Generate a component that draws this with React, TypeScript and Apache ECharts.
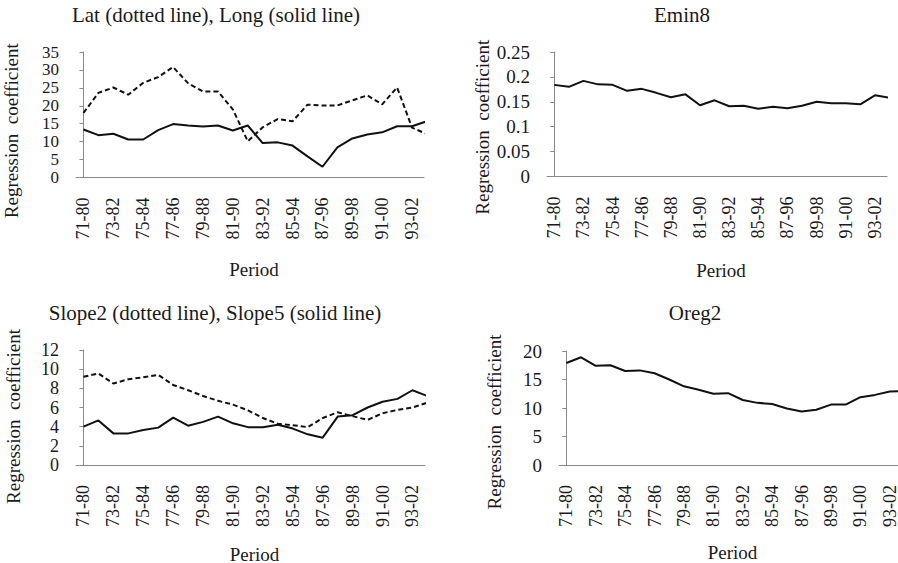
import React, { useEffect, useRef } from 'react';
import * as echarts from 'echarts';

const periods = [
  '71-80', '72-81', '73-82', '74-83', '75-84', '76-85', '77-86', '78-87',
  '79-88', '80-89', '81-90', '82-91', '83-92', '84-93', '85-94', '86-95',
  '87-96', '88-97', '89-98', '90-99', '91-00', '92-01', '93-02', '94-03',
];
const shownLabels = [0, 2, 4, 6, 8, 10, 12, 14, 16, 18, 20, 22];

const lat = [18.0, 23.6, 25.1, 23.1, 26.4, 28.0, 30.8, 26.3, 24.0, 24.0, 19.0, 10.1, 14.0, 16.3, 15.7, 20.3, 20.1, 20.1, 21.5, 22.9, 20.4, 25.1, 13.9, 12.1];
const long = [13.4, 11.8, 12.2, 10.6, 10.6, 13.2, 14.9, 14.5, 14.2, 14.5, 13.1, 14.5, 9.6, 9.8, 8.9, 5.9, 3.0, 8.4, 10.9, 12.0, 12.6, 14.3, 14.3, 15.7];
const emin8 = [0.184, 0.180, 0.192, 0.185, 0.184, 0.172, 0.176, 0.168, 0.159, 0.165, 0.143, 0.153, 0.141, 0.142, 0.136, 0.140, 0.137, 0.142, 0.150, 0.147, 0.147, 0.145, 0.163, 0.158];
const slope2 = [9.2, 9.55, 8.5, 8.95, 9.15, 9.4, 8.35, 7.8, 7.2, 6.7, 6.3, 5.7, 4.9, 4.3, 4.15, 3.95, 4.9, 5.5, 5.1, 4.7, 5.4, 5.75, 6.0, 6.5];
const slope5 = [4.0, 4.65, 3.3, 3.3, 3.65, 3.9, 4.95, 4.1, 4.5, 5.05, 4.35, 3.95, 3.95, 4.2, 3.8, 3.2, 2.85, 5.05, 5.2, 6.0, 6.6, 6.9, 7.8, 7.2];
const oreg2 = [17.9, 18.9, 17.4, 17.5, 16.5, 16.6, 16.1, 15.0, 13.8, 13.2, 12.5, 12.6, 11.4, 10.9, 10.7, 9.9, 9.4, 9.7, 10.6, 10.6, 11.9, 12.3, 12.9, 13.0];

const titles = [
  'Lat (dotted line), Long (solid line)',
  'Emin8',
  'Slope2 (dotted line), Slope5 (solid line)',
  'Oreg2',
];
const yMaxes = [35, 0.25, 12, 20];
const yIntervals = [5, 0.05, 2, 5];
const yName = 'Regression  coefficient';
const xName = 'Period';

const FONT = "'Liberation Serif', 'Times New Roman', serif";
const TEXT = '#1a1a1a';
const AXIS = '#8a8a8a';

// layout of the four panels (pixels)
const layout = [
  { left: 76, top: 52, width: 348, height: 125.5, xMax: 22.8, titleX: 216, titleY: 4, nameShift: 16, xNameGap: 82, yFont: 17, yLine: 12 },
  { left: 547, top: 52, width: 340, height: 124.5, xMax: 22.83, titleX: 682, titleY: 4, nameShift: 13, xNameGap: 84, yFont: 19, yLine: 14 },
  { left: 76, top: 350, width: 349, height: 115, xMax: 22.84, titleX: 215, titleY: 302, nameShift: 9, xNameGap: 80, yFont: 18, yLine: 14 },
  { left: 559, top: 351, width: 339, height: 114, xMax: 22.56, titleX: 695, titleY: 302, nameShift: 14, xNameGap: 78, yFont: 19, yLine: 14 },
];

const toPairs = (arr: number[]) => arr.map((v, i) => [i, v]);

export default function App() {
  const ref = useRef<HTMLDivElement>(null);
  useEffect(() => {
    if (!ref.current) return;
    const chart = echarts.init(ref.current, undefined, { renderer: 'svg' });

    const grid = layout.map((p) => ({
      left: p.left,
      top: p.top,
      width: p.width,
      height: p.height,
      containLabel: false,
      outerBoundsMode: 'none',
    }));

    const xAxis = layout.map((p, k) => ({
      type: 'value',
      gridIndex: k,
      min: -0.5,
      max: p.xMax,
      name: xName,
      nameLocation: 'middle',
      nameGap: p.xNameGap,
      nameTextStyle: { fontFamily: FONT, fontSize: 19, color: TEXT, verticalAlign: 'top', padding: [0, 0, 0, 8] },
      axisLine: { show: true, onZero: true, lineStyle: { color: AXIS, width: 1 } },
      axisTick: { show: false },
      splitLine: { show: false },
      axisLabel: {
        customValues: shownLabels,
        rotate: 90,
        margin: 20,
        fontFamily: FONT,
        fontSize: 18,
        color: TEXT,
        hideOverlap: false,
        formatter: (v: number) => periods[Math.round(v)] ?? '',
      },
    }));

    const yAxis = layout.map((p, k) => ({
      type: 'value',
      gridIndex: k,
      min: 0,
      max: yMaxes[k],
      interval: yIntervals[k],
      name: yName,
      nameLocation: 'middle',
      nameGap: k === 2 ? 53 : 55,
      nameTextStyle: { fontFamily: FONT, fontSize: 19, color: TEXT, padding: [0, p.nameShift * 2, 0, 0] },
      axisLine: { show: true, lineStyle: { color: AXIS, width: 1 } },
      axisTick: { show: true, inside: false, length: 4, lineStyle: { color: AXIS } },
      splitLine: { show: false },
      axisLabel: {
        fontFamily: FONT,
        fontSize: p.yFont,
        lineHeight: p.yLine,
        color: TEXT,
        margin: 17,
        hideOverlap: false,
        showMinLabel: true,
        showMaxLabel: true,
      },
    }));

    const solid = { color: '#111', width: 2, type: 'solid' };
    const dashed = { color: '#111', width: 2, type: [5, 3] };
    const base = { type: 'line', showSymbol: false, symbol: 'none', clip: true, silent: true };

    const series = [
      { ...base, name: 'Lat', xAxisIndex: 0, yAxisIndex: 0, data: toPairs(lat), lineStyle: dashed },
      { ...base, name: 'Long', xAxisIndex: 0, yAxisIndex: 0, data: toPairs(long), lineStyle: solid },
      { ...base, name: 'Emin8', xAxisIndex: 1, yAxisIndex: 1, data: toPairs(emin8), lineStyle: solid },
      { ...base, name: 'Slope2', xAxisIndex: 2, yAxisIndex: 2, data: toPairs(slope2), lineStyle: dashed },
      { ...base, name: 'Slope5', xAxisIndex: 2, yAxisIndex: 2, data: toPairs(slope5), lineStyle: solid },
      { ...base, name: 'Oreg2', xAxisIndex: 3, yAxisIndex: 3, data: toPairs(oreg2), lineStyle: solid },
    ];

    const title = layout.map((p, k) => ({
      text: titles[k],
      left: p.titleX,
      top: p.titleY,
      textAlign: 'center',
      padding: 0,
      textStyle: { fontFamily: FONT, fontSize: 21, fontWeight: 'normal', color: TEXT },
    }));

    chart.setOption({
      animation: false,
      backgroundColor: '#ffffff',
      title,
      grid,
      xAxis,
      yAxis,
      series,
    } as any);

    return () => chart.dispose();
  }, []);

  return (
    <div
      ref={ref}
      style={{ position: 'fixed', left: 0, top: 0, width: 898, height: 563, background: '#fff' }}
    />
  );
}
